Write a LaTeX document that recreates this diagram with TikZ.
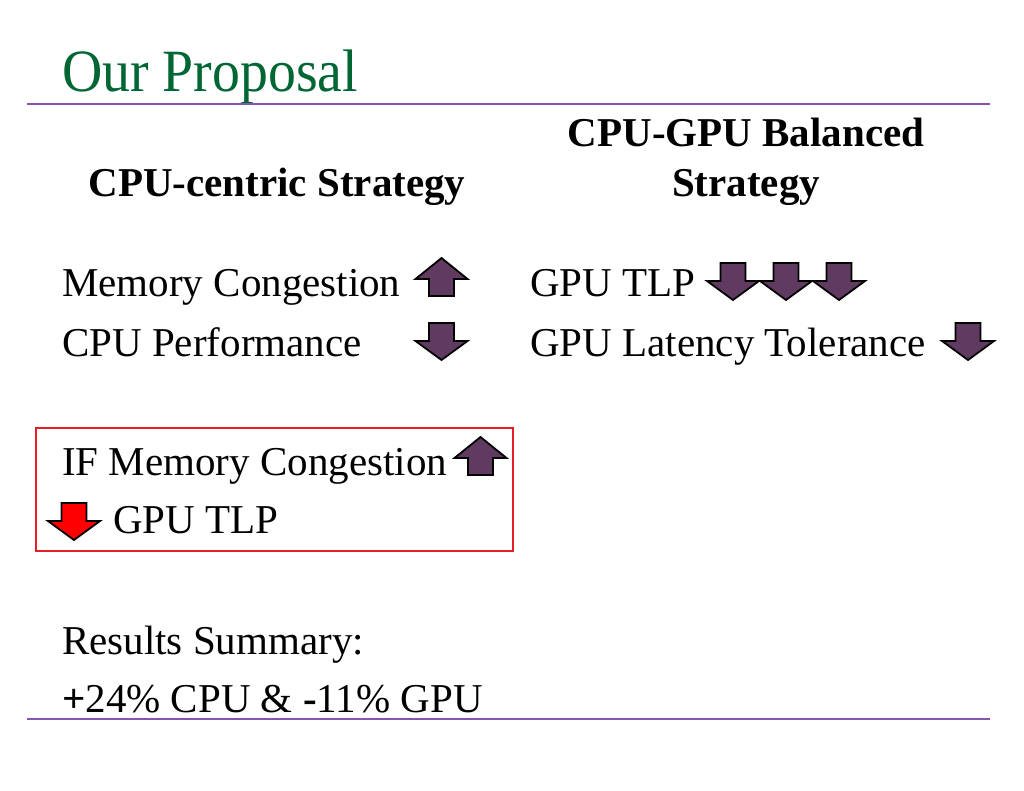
\documentclass[tikz,border=0pt]{standalone}
\usepackage{fontspec}
\setmainfont{Liberation Serif}
\definecolor{titlegreen}{RGB}{0,102,51}
\definecolor{rulepurple}{RGB}{135,85,175}
\definecolor{arrowpurple}{RGB}{96,58,96}
\definecolor{boxred}{RGB}{230,30,40}
\tikzset{
  body/.style={font=\fontsize{41}{50}\selectfont, inner sep=0pt, anchor=base west},
  head/.style={font=\fontsize{41}{50}\selectfont\bfseries, inner sep=0pt, align=center},
  rulestyle/.style={draw=rulepurple, line width=2pt},
  arrowstyle/.style={draw=black, line width=1.8pt, line join=miter, fill=#1},
  arrowstyle/.default=arrowpurple,
  pics/downarr/.style={code={
    \path[arrowstyle=#1] (-12.5,0) -- (12.5,0) -- (12.5,18) -- (26,18) -- (0,37) -- (-26,18) -- (-12.5,18) -- cycle;
  }},
  pics/uparr/.style={code={
    \path[arrowstyle=#1] (-12.5,0) -- (12.5,0) -- (12.5,-17) -- (26,-17) -- (0,-38) -- (-26,-17) -- (-12.5,-17) -- cycle;
  }},
}
\begin{document}
\begin{tikzpicture}[x=1pt,y=-1pt]
\useasboundingbox[fill=white] (0,0) rectangle (1024,791);
% title
\node[inner sep=0pt, anchor=base west, text=titlegreen, font=\fontsize{60}{70}\selectfont, xscale=0.93] (title) at (62,92) {Our Proposal};
\coordinate (r1a) at (27,104);
\coordinate (r1b) at (990,104);
\draw[rulestyle] (r1a) -- (r1b);
\coordinate (r2a) at (27,719);
\coordinate (r2b) at (990,719);
\draw[rulestyle] (r2a) -- (r2b);
% headings
\node[head, anchor=base] (hleft) at (277,197) {CPU-centric Strategy};
\node[head, anchor=base] (hright1) at (746,147) {CPU-GPU Balanced};
\node[head, anchor=base] (hright2) at (746,197) {Strategy};
% left column
\node[body] (memcong) at (62,297) {Memory Congestion};
\node[body] (cpuperf) at (62,356) {CPU Performance};
\pic (a1) at (441.5,296) {uparr=arrowpurple};
\pic (a2) at (441.5,323) {downarr=arrowpurple};
% right column
\node[body] (gputlp) at (530,297) {GPU TLP};
\node[body] (gpulat) at (530,356) {GPU Latency Tolerance};
\pic (a3) at (733,263) {downarr=arrowpurple};
\pic (a4) at (786,263) {downarr=arrowpurple};
\pic (a5) at (839,263) {downarr=arrowpurple};
\pic (a6) at (968,323) {downarr=arrowpurple};
% red box
\node[draw=boxred, line width=2pt, inner sep=0pt, minimum width=477pt, minimum height=123pt, anchor=north west] (box) at (35,427) {};
\node[body] (ifmem) at (62,475) {IF Memory Congestion};
\node[body] (boxtlp) at (113,533) {GPU TLP};
\pic (a7) at (480.5,475) {uparr=arrowpurple};
\pic (a8) at (74,503) {downarr=red};
% results
\node[body] (res) at (62,654) {Results Summary:};
\node[body] (resnum) at (62,712) {\textbf{+}24\% CPU \& \textbf{-}11\% GPU};
\end{tikzpicture}
\end{document}
